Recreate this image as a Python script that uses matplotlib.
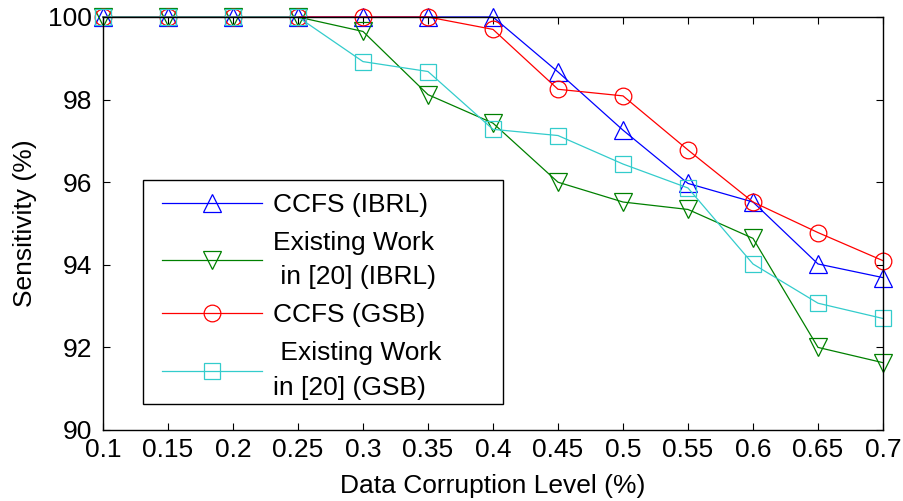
import matplotlib
matplotlib.use('Agg')
import matplotlib.pyplot as plt
from matplotlib.patches import Rectangle

plt.rcParams['font.family'] = ['Liberation Sans', 'DejaVu Sans']

# corruption levels and sensitivity for each method / dataset
corruption = [0.1, 0.15, 0.2, 0.25, 0.3, 0.35, 0.4, 0.45, 0.5, 0.55, 0.6, 0.65, 0.7]
ccfs_ibrl = [100, 100, 100, 100, 100, 100, 100, 98.67, 97.26, 95.97, 95.52, 94.02, 93.69]
existing_ibrl = [100, 100, 100, 100, 99.65, 98.12, 97.43, 96.0, 95.52, 95.34, 94.64, 92.0, 91.63]
ccfs_gsb = [100, 100, 100, 100, 100, 100, 99.7, 98.25, 98.09, 96.78, 95.52, 94.78, 94.1]
existing_gsb = [100, 100, 100, 100, 98.92, 98.68, 97.28, 97.13, 96.44, 95.86, 94.02, 93.07, 92.7]

labels = ['CCFS (IBRL)', 'Existing Work\n in [20] (IBRL)', 'CCFS (GSB)', ' Existing Work\nin [20] (GSB)']
xtick_labels = ['0.1', '0.15', '0.2', '0.25', '0.3', '0.35', '0.4', '0.45', '0.5', '0.55', '0.6', '0.65', '0.7']

W, H = 904, 501
fs = 19

fig = plt.figure(figsize=(W / 100, H / 100), dpi=100)
ax = fig.add_axes([103 / W, 1 - 430 / H, 780 / W, 413 / H])

lw = 0.9
style = dict(markerfacecolor='none', markeredgewidth=lw, linewidth=lw, clip_on=False)
ax.plot(corruption, ccfs_ibrl, color='#0000ff', marker='^', markersize=13.5, label=labels[0], **style)
ax.plot(corruption, existing_ibrl, color='#008000', marker='v', markersize=13.5, label=labels[1], **style)
ax.plot(corruption, ccfs_gsb, color='#ff0000', marker='o', markersize=12, label=labels[2], **style)
ax.plot(corruption, existing_gsb, color='#33cccc', marker='s', markersize=12, label=labels[3], **style)

ax.set_xlim(0.1, 0.7)
ax.set_ylim(90, 100)
ax.set_xticks(corruption)
ax.set_xticklabels(xtick_labels)
ax.set_yticks([90, 92, 94, 96, 98, 100])
ax.tick_params(direction='in', length=5, width=0.8, labelsize=fs, top=True, right=True)
ax.tick_params(axis='x', pad=6)
ax.tick_params(axis='y', pad=8)
for s in ax.spines.values():
    s.set_linewidth(1.0)
ax.set_xlabel('Data Corruption Level (%)', fontsize=fs, va='center')
ax.set_ylabel('Sensitivity (%)', fontsize=fs, va='center')
ax.xaxis.set_label_coords(0.5, (430 - 486) / 413)
ax.yaxis.set_label_coords((25 - 103) / 780, 0.5)

# legend box drawn separately so it can be wider than its contents
leg = ax.legend(loc='upper left', bbox_to_anchor=(162 / W, 1 - 193 / H), bbox_transform=fig.transFigure,
                fontsize=fs, handlelength=3.8, handletextpad=0.4, borderpad=0, labelspacing=0.53,
                frameon=False, borderaxespad=0)
for t in leg.get_texts():
    t.set_linespacing(1.55)
frame = Rectangle((143 / W, 1 - 404 / H), 360 / W, 224 / H, transform=fig.transFigure,
                  facecolor='white', edgecolor='black', linewidth=1.0, zorder=4)
ax.add_patch(frame)
frame.set_clip_on(False)
leg.set_zorder(5)

fig.savefig('out.png', dpi=100)
